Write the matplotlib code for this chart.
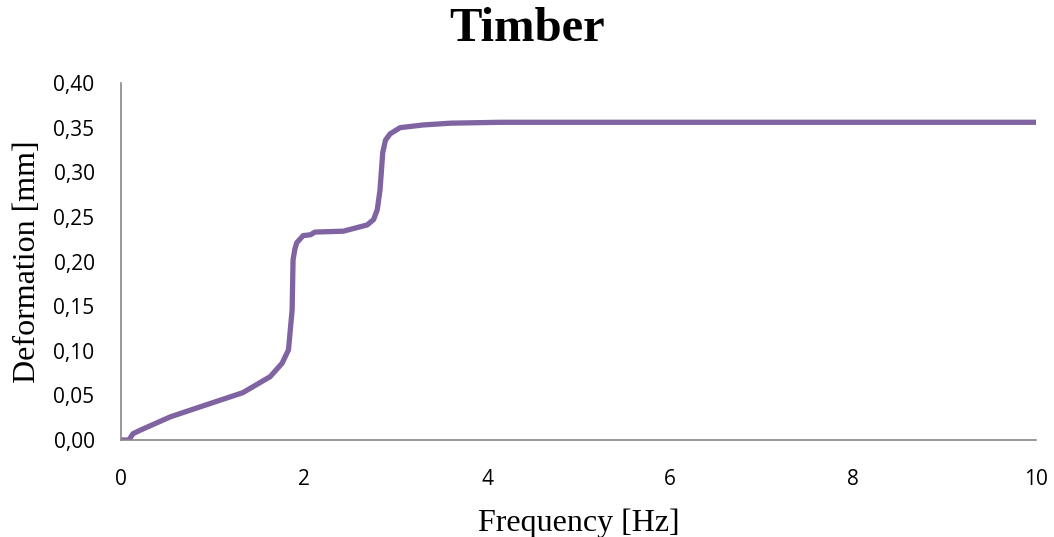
import numpy as np
import matplotlib.pyplot as plt
from matplotlib.ticker import FuncFormatter, MultipleLocator

# frequency sweep vs. measured deformation
freq = [0.0, 0.087, 0.13, 0.21, 0.54, 0.86, 1.33, 1.63, 1.76, 1.83, 1.87, 1.88, 1.90, 1.92,
        1.99, 2.07, 2.12, 2.43, 2.69, 2.76, 2.80, 2.83, 2.86, 2.89, 2.94, 3.05, 3.30, 3.60, 4.14, 10.0]
deform = [0.0, 0.0, 0.007, 0.011, 0.026, 0.037, 0.053, 0.071, 0.086, 0.101, 0.146, 0.202, 0.214, 0.221,
          0.229, 0.230, 0.233, 0.234, 0.241, 0.247, 0.258, 0.280, 0.322, 0.336, 0.343, 0.350, 0.353, 0.355, 0.356, 0.356]

fig = plt.figure(figsize=(10.54, 5.37), dpi=100)
ax = fig.add_axes([0.1148, 0.1806, 0.8683, 0.6648])

ax.plot(freq, deform, color='#8064A2', linewidth=3.8, solid_capstyle='butt', solid_joinstyle='round')

ax.set_xlim(0, 10)
ax.set_ylim(0, 0.40)
ax.xaxis.set_major_locator(MultipleLocator(2))
ax.yaxis.set_major_locator(MultipleLocator(0.05))
ax.yaxis.set_major_formatter(FuncFormatter(lambda v, p: f"{v:.2f}".replace('.', ',')))
ax.tick_params(axis='x', length=0, labelsize=15, pad=21)
ax.tick_params(axis='y', length=0, labelsize=15, pad=19)
for lbl in ax.get_xticklabels() + ax.get_yticklabels():
    lbl.set_fontfamily('Open Sans')

for s in ['top', 'right']:
    ax.spines[s].set_visible(False)
for s in ['left', 'bottom']:
    ax.spines[s].set_color('#868686')
    ax.spines[s].set_linewidth(1.2)

serif = 'Liberation Serif'
ax.set_xlabel('Frequency [Hz]', fontfamily=serif, fontsize=23, labelpad=13)
ax.set_ylabel('Deformation [mm]', fontfamily=serif, fontsize=23, labelpad=8)
fig.text(0.5, 0.946, 'Timber', ha='center', va='center', fontfamily=serif,
         fontsize=35, fontweight='bold')

plt.savefig('out.png', dpi=100)
